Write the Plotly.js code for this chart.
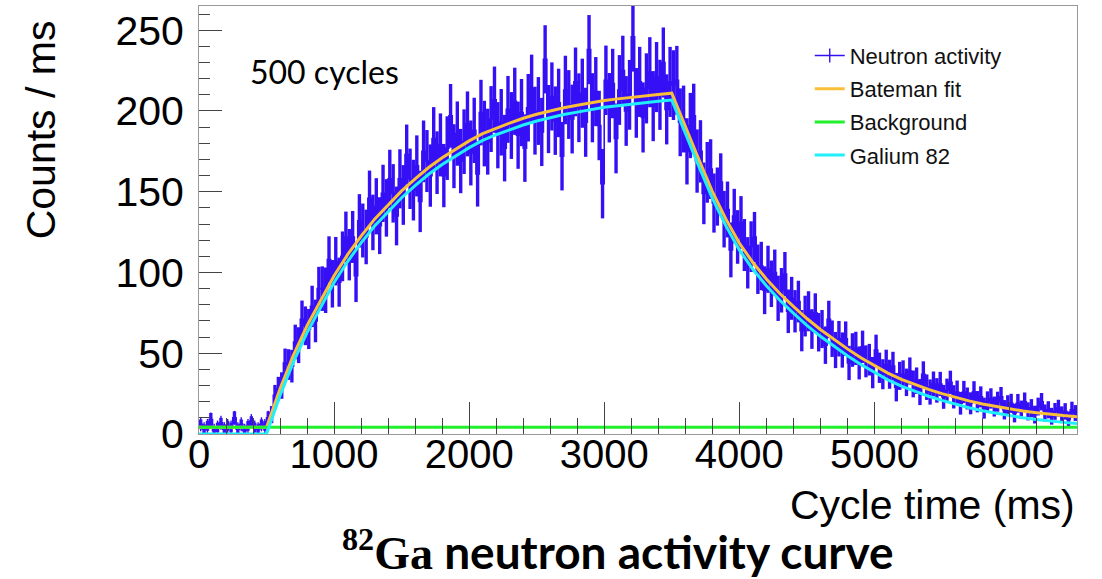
<!DOCTYPE html>
<html>
<head>
<meta charset="utf-8">
<script src="https://cdn.plot.ly/plotly-3.0.1.min.js"></script>
<style>
  html, body { margin: 0; padding: 0; background: #ffffff; }
  #chart { width: 1102px; height: 579px; }
</style>
</head>
<body>
<div id="chart"></div>
<script>
// ---- Data ----
// Neutron activity histogram: 25 ms bins, first bin centred at 12.5 ms (counts / ms)
const binStart = 12.5;
const binWidth = 25;
const neutronActivity = [
  // 0 - 500 ms (background only)
  6,3,5,9,2,4,7,3,5,4,10,3,6,2,5,8,4,3,6,5,
  // 500 - 3500 ms (beam on, growth)
  10,12,24,28,30,44,43,42,57,55,
  71,67,65,79,70,90,90,89,108,93,
  107,94,110,122,111,122,98,132,126,122,
  146,131,141,129,149,140,158,149,135,158,
  148,173,158,151,166,144,175,169,160,183,
  168,179,160,177,197,172,186,169,181,192,
  174,188,161,199,186,181,195,207,185,193,
  177,201,191,206,185,199,177,202,214,194,
  200,187,232,195,209,194,205,172,213,204,
  195,218,202,211,193,238,202,212,191,155,
  219,202,217,183,213,225,200,210,246,205,
  218,196,214,224,203,221,210,230,201,218,
  // 3500 - 6500 ms (beam off, decay)
  216,219,193,195,175,191,197,169,175,149,
  162,164,143,147,156,133,139,114,135,122,
  131,117,106,116,122,102,104,89,102,93,
  100,84,89,99,76,84,76,82,64,73,
  76,65,75,63,65,55,71,59,52,59,
  52,59,44,52,53,44,54,45,46,38,
  52,41,37,43,37,42,29,36,37,32,
  39,31,33,26,37,29,26,31,27,31,
  23,27,32,23,26,19,26,22,19,26,
  20,23,16,20,22,17,20,23,15,18,
  19,13,19,15,20,14,16,12,17,20,
  13,15,11,14,16,12,14,9,15,13
];
const neutronError = [
  3,3,3,4,3,3,3,3,3,3,4,3,3,3,3,3,3,3,3,3,
  4,5.3,6.4,7.4,8.2,8.9,9.5,10.1,10.7,11.1,
  11.6,12,12.4,12.8,13.2,13.5,13.8,14.1,14.4,14.7,
  15,15.2,15.4,15.7,15.9,16.1,16.3,16.5,16.7,16.9,
  17.1,17.2,17.4,17.6,17.7,17.8,18,18.1,18.2,18.3,
  18.5,18.6,18.7,18.8,18.9,19,19.1,19.2,19.3,19.4,
  19.4,19.5,19.6,19.7,19.7,19.8,19.9,19.9,20,20.1,
  20.1,20.2,20.2,20.3,20.3,20.4,20.4,20.5,20.5,20.6,
  20.6,20.7,20.7,20.8,20.8,20.8,20.9,20.9,20.9,21,
  21,21.1,21.1,21.1,21.1,21.2,21.2,21.2,21.2,21.3,
  21.3,21.3,21.3,21.4,21.4,21.4,21.4,21.4,21.5,21.5,
  21.5,21.5,21.5,21.6,21.6,21.6,21.6,21.6,21.6,21.6,
  21.7,21.7,21.7,21.7,21.7,21.7,21.7,21.7,21.7,21.7,
  21.6,21.3,21,20.7,20.5,20.2,19.9,19.6,19.3,19.1,
  18.8,18.5,18.3,18,17.8,17.5,17.3,17,16.8,16.6,
  16.3,16.1,15.9,15.7,15.5,15.3,15,14.8,14.6,14.4,
  14.2,14,13.8,13.7,13.5,13.3,13.1,12.9,12.8,12.6,
  12.4,12.3,12.1,11.9,11.8,11.6,11.5,11.3,11.2,11,
  10.9,10.7,10.6,10.4,10.3,10.2,10,9.9,9.8,9.7,
  9.5,9.4,9.3,9.2,9,8.9,8.8,8.7,8.6,8.5,
  8.4,8.3,8.2,8.1,8,7.9,7.8,7.7,7.6,7.5,
  7.4,7.3,7.2,7.2,7.1,7,6.9,6.8,6.8,6.7,
  6.6,6.5,6.5,6.4,6.3,6.2,6.2,6.1,6,6,
  5.9,5.8,5.8,5.7,5.7,5.6,5.6,5.5,5.5,5.4,
  5.3,5.3,5.2,5.2,5.2,5.1,5.1,5,5,4.9
];

// Fit curves (ms)
const fitTime = [
  0,500,600,700,800,900,1000,1100,1200,1300,1400,1500,1600,1700,1800,1900,
  2000,2100,2200,2300,2400,2500,2600,2700,2800,2900,3000,3100,3200,3300,3400,3500,
  3600,3700,3800,3900,4000,4100,4200,4300,4400,4500,4600,4700,4800,4900,
  5000,5100,5200,5300,5400,5500,5600,5700,5800,5900,6000,6100,6200,6300,6400,6500
];
const batemanFit = [
  4.2,4.2,28,49,67,83,98,111,122.5,133,142,150.5,158,165,171,176.5,
  181.5,186,189.5,192.5,195.5,198,200,202,203.5,205,206.5,207.5,208.5,209.5,210.2,211,
  190,170,150.2,133.2,118.2,106.2,96,87,79,71.5,64.7,58.5,52.7,47.2,
  42.2,37.7,33.8,30.6,27.6,25,22.6,20.5,18.6,17,15.5,14.2,13.2,12.2,11.4,10.7
];
const galium82 = [
  0,0,23.8,44.8,62.8,78.8,93.8,106.8,118.3,128.8,137.8,146.3,153.8,160.8,166.8,172.3,
  177.3,181.8,185.3,188.3,191.3,193.8,195.8,197.8,199.3,200.8,202.3,203.3,204.3,205.3,206,206.8,
  185.8,165.8,146,129,114,102,91.8,82.8,74.8,67.3,60.5,54.3,48.5,43,
  38,33.5,29.6,26.4,23.4,20.8,18.4,16.3,14.4,12.8,11.3,10,9,8,7.2,6.5
];
const bkgTime = [0, 6500];
const background = [4.2, 4.2];

const seriesNames = ["Neutron activity", "Bateman fit", "Background", "Galium 82"];

// ---- Styles ----
const BLUE = "#3610f5";
const ORANGE = "#fabf38";
const GREEN = "#1ff02a";
const CYAN = "#20eefa";
const AXFONT = "Liberation Sans, Arial, Helvetica, sans-serif";

const traces = [
  {
    type: "scatter",
    name: seriesNames[0], legendgroup: "g0",
    x0: binStart, dx: binWidth,
    y: neutronActivity,
    mode: "lines+markers",
    line: { color: BLUE, width: 1.6, shape: "hvh" },
    marker: { symbol: "line-ns", size: 10, color: BLUE, line: { color: BLUE, width: 1.4 } },
    error_y: { type: "data", array: neutronError, visible: true, color: BLUE, thickness: 3.4, width: 0 }
  },
  {
    type: "scatter", name: seriesNames[1], legendgroup: "g1",
    x: fitTime, y: batemanFit, mode: "lines",
    line: { color: ORANGE, width: 3 }
  },
  {
    type: "scatter", name: seriesNames[2], legendgroup: "g2",
    x: bkgTime, y: background, mode: "lines",
    line: { color: GREEN, width: 3 }
  },
  {
    type: "scatter", name: seriesNames[3], legendgroup: "g3",
    x: fitTime, y: galium82, mode: "lines",
    line: { color: CYAN, width: 3 }
  }
];

const layout = {
  width: 1102, height: 579,
  paper_bgcolor: "#ffffff", plot_bgcolor: "#ffffff",
  margin: { l: 199, r: 25, t: 6, b: 145 },
  showlegend: true,
  legend: {
    x: 0.6956, y: 0.933, xanchor: "left", yanchor: "top",
    bgcolor: "rgba(255,255,255,0)", borderwidth: 0,
    font: { family: AXFONT, size: 22, color: "#111" },
    tracegroupgap: 1.6
  },
  title: {
    text: '<span style="font-family:\'Liberation Serif\', serif"><sup>82</sup>Ga</span> neutron activity curve',
    font: { family: "Lato, 'Open Sans', sans-serif", size: 46, color: "#000", weight: "bold" },
    xref: "paper", x: 0.477, xanchor: "center",
    yref: "container", y: 0.045, yanchor: "middle"
  },
  xaxis: {
    range: [0, 6500],
    showgrid: false, zeroline: false,
    showline: true, linecolor: "#999999", linewidth: 1, mirror: true,
    ticks: "inside", ticklen: 32, tickcolor: "#444", tickwidth: 1,
    dtick: 1000, tick0: 0,
    minor: { ticks: "inside", ticklen: 16, dtick: 200, tick0: 0, tickcolor: "#444", tickwidth: 1, showgrid: false },
    tickfont: { family: AXFONT, size: 40, color: "#000" },
    ticklabelstandoff: -15
  },
  yaxis: {
    range: [0, 265],
    showgrid: false, zeroline: false,
    showline: true, linecolor: "#999999", linewidth: 1, mirror: true,
    ticks: "inside", ticklen: 23, tickcolor: "#444", tickwidth: 1,
    dtick: 50, tick0: 0,
    minor: { ticks: "inside", ticklen: 11, dtick: 10, tick0: 0, tickcolor: "#444", tickwidth: 1, showgrid: false },
    tickfont: { family: AXFONT, size: 41, color: "#000" },
    ticklabelstandoff: 6
  },
  annotations: [
    {
      text: "Counts / ms", textangle: -90,
      xref: "paper", yref: "paper", x: -0.179, y: 0.972,
      xanchor: "center", yanchor: "top", showarrow: false,
      font: { family: AXFONT, size: 41, color: "#000" }
    },
    {
      text: "Cycle time (ms)",
      xref: "paper", yref: "paper", x: 1.0, y: -0.166,
      xanchor: "right", yanchor: "middle", showarrow: false,
      font: { family: AXFONT, size: 41, color: "#000" }
    },
    {
      text: "500 cycles",
      xref: "paper", yref: "paper", x: 0.056, y: 0.848,
      xanchor: "left", yanchor: "middle", showarrow: false,
      font: { family: "Lato, 'Open Sans', sans-serif", size: 32, color: "#000" }
    }
  ]
};

Plotly.newPlot("chart", traces, layout, { displayModeBar: false, staticPlot: true });
</script>
</body>
</html>
